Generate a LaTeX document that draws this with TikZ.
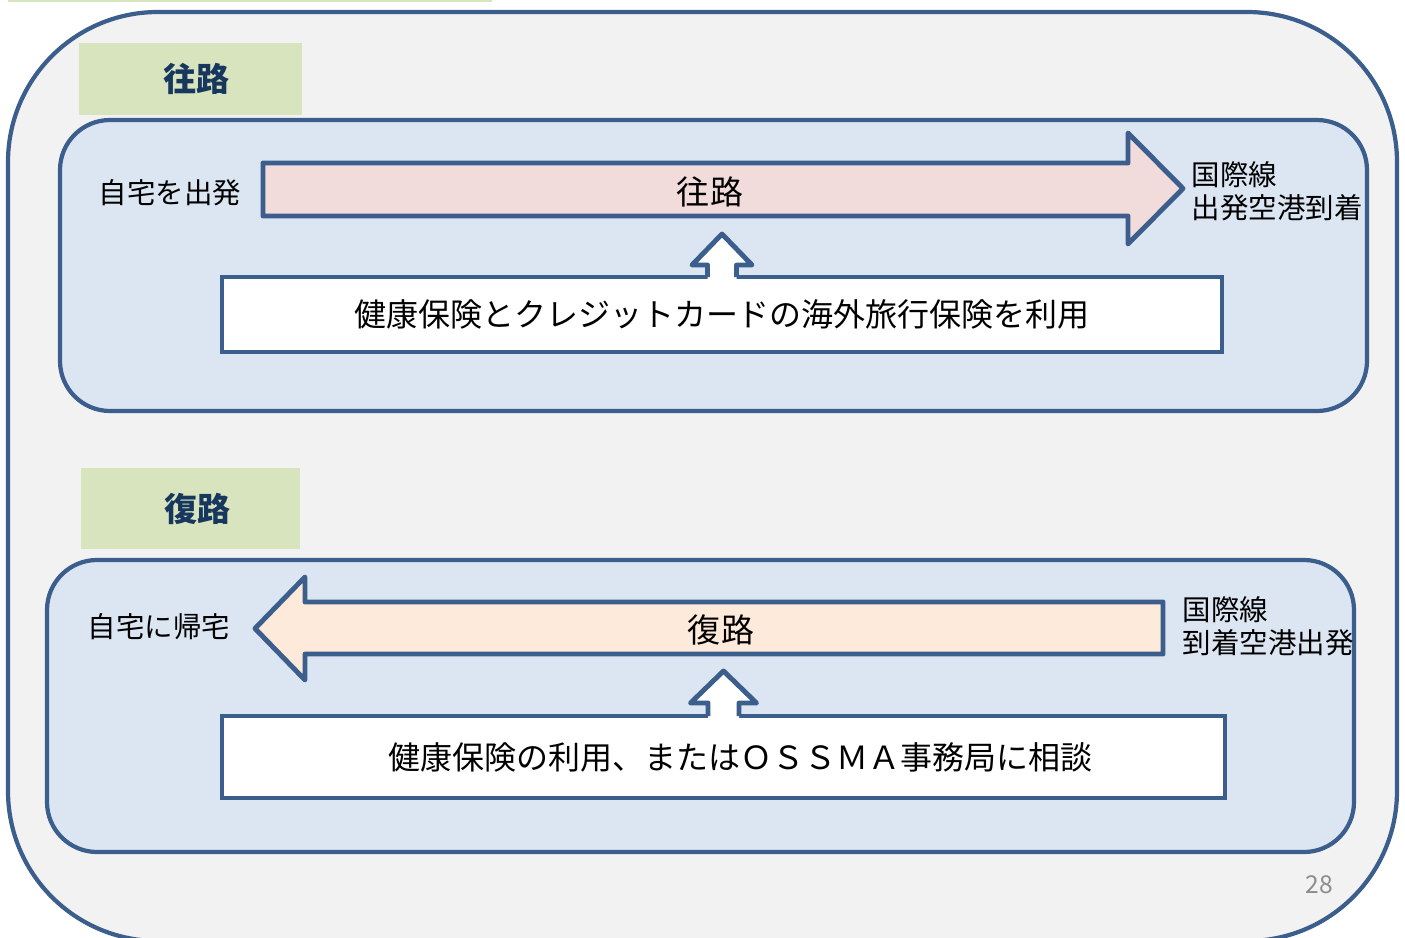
\documentclass[tikz,border=0pt]{standalone}
\usepackage{fontspec}
\setmainfont{Noto Sans CJK JP}
\usepackage{xcolor}
\usepackage{tikz}
\usetikzlibrary{positioning,calc}

\definecolor{frameblue}{HTML}{3B5E8C}
\definecolor{slidegray}{HTML}{F2F2F2}
\definecolor{panelblue}{HTML}{DCE6F2}
\definecolor{tabgreen}{HTML}{D7E4BD}
\definecolor{tabnavy}{HTML}{17375E}
\definecolor{outpink}{HTML}{F2DCDB}
\definecolor{backpeach}{HTML}{FDEADA}
\definecolor{pagegray}{HTML}{8C8C8C}

\begin{document}
\begin{tikzpicture}[
    frame/.style={draw=frameblue, line width=1.2pt},
    panel/.style={frame, fill=panelblue, rounded corners=0.5cm, minimum width=13.07cm, outer sep=0pt},
    tab/.style={fill=tabgreen, text=tabnavy, font=\fontsize{9.4}{11}\selectfont\bfseries, minimum height=0.75cm},
    benefit/.style={draw=frameblue, line width=1.4pt, fill=white, font=\fontsize{9.1}{11}\selectfont, outer sep=0pt},
    bigarrow/.style={draw=frameblue, line width=1.4pt, line join=round},
    uparrow/.style={draw=frameblue, line width=1.4pt, line join=round},
    route/.style={font=\fontsize{9.4}{11}\selectfont},
    place/.style={font=\fontsize{8.1}{9.4}\selectfont, align=left, inner sep=0pt}
]
\useasboundingbox (0,0) rectangle (14.05,-9.38);

% Slide background
\fill[tabgreen] (0.08,0) rectangle (4.92,-0.02);
\node[frame, fill=slidegray, rounded corners=1.5cm, minimum width=13.89cm, minimum height=9.29cm] (slide) at (7.025,-4.765) {};

% Outbound - 往路
\node[tab, minimum width=2.23cm, minimum height=0.72cm] (tabout) at (1.905,-0.79) {\hspace{0.12cm}往路};
\node[panel, minimum height=2.91cm] (panelout) at (7.135,-2.655) {};
\node[place] (home1) at (1.70,-1.93) {自宅を出発};
\draw[bigarrow, fill=outpink] (2.63,-1.63) -- (11.28,-1.63) -- (11.28,-1.33) -- (11.83,-1.885)
    -- (11.28,-2.44) -- (11.28,-2.16) -- (2.63,-2.16) -- cycle;
\node[route] (route1) at (7.10,-1.92) {往路};
\node[place, anchor=west] (airport1) at (11.91,-1.915) {国際線\\出発空港到着};
\node[benefit, minimum width=10.0cm, minimum height=0.75cm] (benefit1) at (7.22,-3.145)
    {健康保険とクレジットカードの海外旅行保険を利用};
\coordinate (tip1) at ($(benefit1.north)+(0,0.43)$);
\fill[white] ($(benefit1.north)+(-0.145,-0.04)$) -- ++(0,0.16) -- ++(-0.155,0) -- (tip1)
    -- ($(benefit1.north)+(0.30,0.12)$) -- ++(-0.155,0) -- ++(0,-0.16) -- cycle;
\draw[uparrow] ($(benefit1.north)+(-0.145,0)$) -- ++(0,0.12) -- ++(-0.155,0) -- (tip1)
    -- ($(benefit1.north)+(0.30,0.12)$) -- ++(-0.155,0) -- ++(0,-0.12);

% Return - 復路
\node[tab, minimum width=2.19cm, minimum height=0.81cm] (tabback) at (1.905,-5.085) {\hspace{0.14cm}復路};
\node[panel, minimum height=2.92cm] (panelback) at (7.005,-7.06) {};
\node[place] (home2) at (1.59,-6.27) {自宅に帰宅};
\draw[bigarrow, fill=backpeach] (11.63,-6.02) -- (3.05,-6.02) -- (3.05,-5.77) -- (2.55,-6.285)
    -- (3.05,-6.80) -- (3.05,-6.54) -- (11.63,-6.54) -- cycle;
\node[route] (route2) at (7.21,-6.30) {復路};
\node[place, anchor=west] (airport2) at (11.82,-6.265) {国際線\\到着空港出発};
\node[benefit, minimum width=10.03cm, minimum height=0.82cm] (benefit2) at (7.235,-7.57)
    {\hspace{0.34cm}健康保険の利用、またはＯＳＳＭＡ事務局に相談};
\coordinate (tip2) at ($(benefit2.north)+(0,0.45)$);
\fill[white] ($(benefit2.north)+(-0.155,-0.04)$) -- ++(0,0.17) -- ++(-0.175,0) -- (tip2)
    -- ($(benefit2.north)+(0.33,0.13)$) -- ++(-0.175,0) -- ++(0,-0.17) -- cycle;
\draw[uparrow] ($(benefit2.north)+(-0.155,0)$) -- ++(0,0.13) -- ++(-0.175,0) -- (tip2)
    -- ($(benefit2.north)+(0.33,0.13)$) -- ++(-0.175,0) -- ++(0,-0.13);

% Page number
\node[text=pagegray, font=\fontsize{7}{8}\selectfont] (pageno) at (13.19,-8.85) {28};

\end{tikzpicture}
\end{document}
